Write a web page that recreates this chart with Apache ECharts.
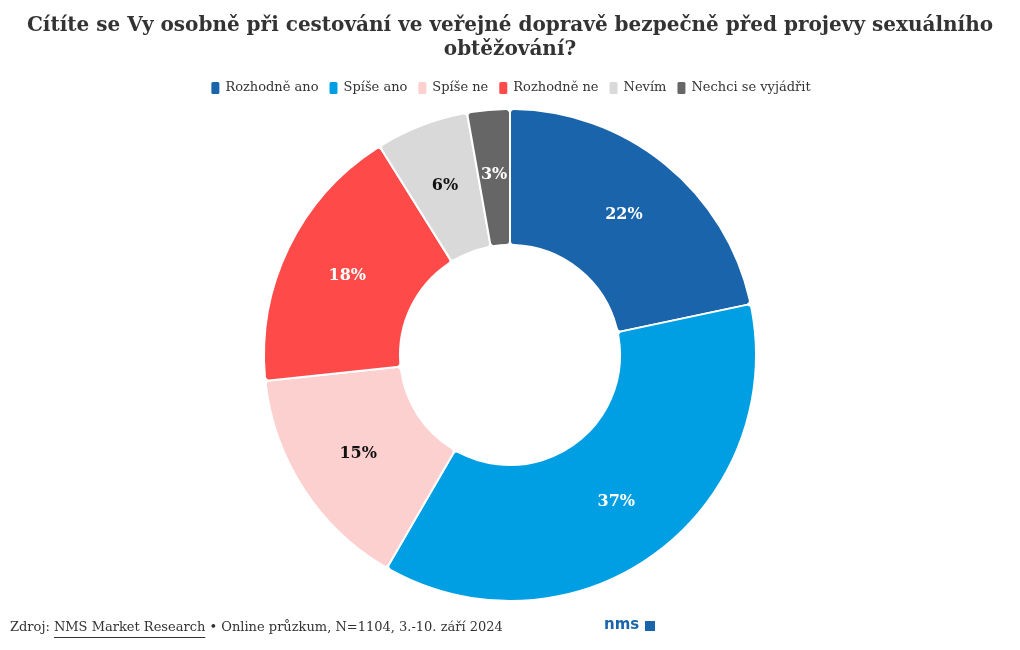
<!DOCTYPE html>
<html><head><meta charset="utf-8">
<script src="https://cdn.jsdelivr.net/npm/echarts@6/dist/echarts.min.js"></script>
<style>html,body{margin:0;padding:0;background:#fff}#c{width:1020px;height:650px}</style>
</head><body><div id="c"></div>
<script>
const categories = ['Rozhodně ano','Spíše ano','Spíše ne','Rozhodně ne','Nevím','Nechci se vyjádřit'];
const values = [21.7, 36.7, 15.0, 17.8, 6.1, 2.8];
const colors = ['#1a64ab','#009fe3','#fdd0d0','#ff4a4a','#d9d9d9','#666666'];
const labelColors = ['#fff','#fff','#111','#fff','#111','#fff'];
const FONT = 'DejaVu Serif';
const footFont = '13px "DejaVu Serif"';
const fPre = 'Zdroj: ', fLink = 'NMS Market Research', fPost = ' • Online průzkum, N=1104, 3.-10. září 2024';

const ctx = document.createElement('canvas').getContext('2d');
ctx.font = footFont;
const wPre = ctx.measureText(fPre).width;
const wLink = ctx.measureText(fLink).width;

const chart = echarts.init(document.getElementById('c'));
chart.setOption({
  animation:false,
  color: colors,
  title:{
    text:'Cítíte se Vy osobně při cestování ve veřejné dopravě bezpečně před projevy sexuálního\nobtěžování?',
    left:'center', top:9,
    textStyle:{fontFamily:FONT,fontWeight:'bold',fontSize:20,color:'#333',lineHeight:24}
  },
  legend:{
    top:75, left:'center', itemWidth:10, itemHeight:14, itemGap:9,
    icon:'roundRect',
    textStyle:{fontFamily:FONT,fontSize:13,color:'#333'},
    data: categories
  },
  series:[{
    type:'pie',
    center:[510,355], radius:[110,246],
    startAngle:90, clockwise:true,
    itemStyle:{borderColor:'#fff',borderWidth:2,borderRadius:4},
    label:{
      position:'inside', fontFamily:FONT, fontWeight:'bold', fontSize:16,
      formatter: p => Math.round(p.value)+'%'
    },
    labelLine:{show:false},
    data: categories.map((n,i)=>({name:n,value:values[i],label:{color:labelColors[i]}}))
  }],
  graphic:[
    {type:'text',x:10,y:621,style:{text:fPre,font:footFont,fill:'#333'}},
    {type:'text',x:10+wPre,y:621,style:{text:fLink,font:footFont,fill:'#333'}},
    {type:'line',shape:{x1:10+wPre,y1:637.5,x2:10+wPre+wLink,y2:637.5},style:{stroke:'#333',lineWidth:1}},
    {type:'text',x:10+wPre+wLink,y:621,style:{text:fPost,font:footFont,fill:'#333'}},
    {type:'text',x:604,y:618,style:{text:'nms',font:'bold 15px "DejaVu Sans"',fill:'#1a64ab'}},
    {type:'rect',x:645,y:621,shape:{width:10,height:10},style:{fill:'#1a64ab'}}
  ]
});
</script></body></html>
